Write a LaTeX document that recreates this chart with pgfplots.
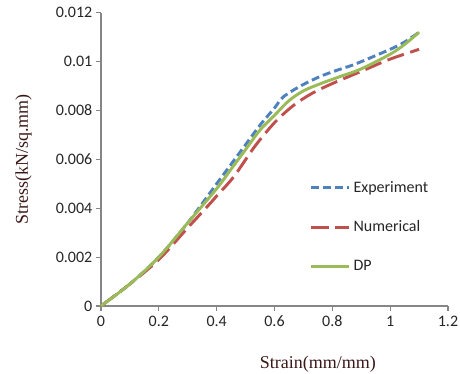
\documentclass[border=0pt]{standalone}
\usepackage{pgfplots}
\pgfplotsset{compat=1.18}
\usepackage{fontspec}
\setmainfont{Carlito}
\newfontfamily\timesfont{Liberation Serif}
\definecolor{expblue}{HTML}{4F81BD}
\definecolor{numred}{HTML}{C0504D}
\definecolor{dpgreen}{HTML}{9BBB59}
\definecolor{axgray}{HTML}{868686}
\definecolor{txt}{HTML}{262626}
\begin{document}
\begin{tikzpicture}
\path[use as bounding box] (-75.75pt,-51pt) rectangle (269.25pt,229.5pt);
\begin{axis}[
  at={(0,0)}, anchor=south west,
  scale only axis, width=260.25pt, height=220pt,
  xmin=0, xmax=1.2, ymin=0, ymax=0.012,
  axis x line=bottom, axis y line=left,
  axis line style={-, axgray, line width=0.8pt},
  tick style={axgray, line width=0.8pt},
  tick align=outside, major tick length=4pt,
  xtick={0,0.2,0.4,0.6,0.8,1,1.2},
  ytick={0,0.002,0.004,0.006,0.008,0.01,0.012},
  scaled y ticks=false, scaled x ticks=false,
  /pgf/number format/assume math mode=true,
  yticklabel style={/pgf/number format/fixed, /pgf/number format/precision=3, xshift=1pt},
  xticklabel style={/pgf/number format/fixed, /pgf/number format/precision=1},
  ticklabel style={font=\fontsize{12}{14}\selectfont, text=txt},
  xlabel={\timesfont Strain(mm/mm)},
  ylabel={\timesfont Stress(kN/sq.mm)},
  label style={font=\fontsize{13.5}{15}\selectfont, text=numred!30!black},
  xlabel style={at={(axis description cs:0.625,0)}, anchor=center, yshift=-44pt},
  ylabel style={at={(axis description cs:0,0.5)}, anchor=center, yshift=58pt},
  legend style={draw=none, fill=none, at={(0.59,0.445)}, anchor=north west,
    font=\fontsize{12}{14}\selectfont, row sep=16pt, text=txt},
  legend cell align=left,
  legend image code/.code={\draw[#1] (0cm,0cm) -- (1cm,0cm);},
  clip=false,
]
\addplot[expblue, line width=2.2pt, dash pattern=on 6pt off 3pt, smooth] coordinates {
(0,0) (0.1,0.0009) (0.2,0.002) (0.3,0.0034) (0.4,0.0050) (0.45,0.0058) (0.5,0.0066) (0.55,0.0074) (0.6,0.0081) (0.63,0.00855) (0.69,0.0090) (0.76,0.0094) (0.83,0.0097) (0.88,0.0099) (1.0,0.0105) (1.05,0.0108) (1.1,0.0112)};
\addlegendentry{Experiment}
\addplot[numred, line width=2.2pt, dash pattern=on 13pt off 5pt, smooth] coordinates {
(0,0) (0.1,0.0009) (0.2,0.0019) (0.3,0.0032) (0.37,0.0041) (0.4,0.0045) (0.46,0.0053) (0.53,0.0065) (0.6,0.0075) (0.665,0.0082) (0.73,0.0087) (0.8,0.0091) (0.9,0.0096) (1.0,0.0101) (1.1,0.0105)};
\addlegendentry{Numerical}
\addplot[dpgreen, line width=2.2pt, smooth] coordinates {
(0,0) (0.1,0.0009) (0.2,0.002) (0.3,0.0034) (0.4,0.0048) (0.45,0.0056) (0.5,0.0064) (0.55,0.0072) (0.6,0.0078) (0.65,0.0084) (0.7,0.0088) (0.76,0.0091) (0.83,0.0094) (0.9,0.0097) (1.0,0.0103) (1.05,0.0107) (1.1,0.0112)};
\addlegendentry{DP}
\end{axis}
\end{tikzpicture}
\end{document}
